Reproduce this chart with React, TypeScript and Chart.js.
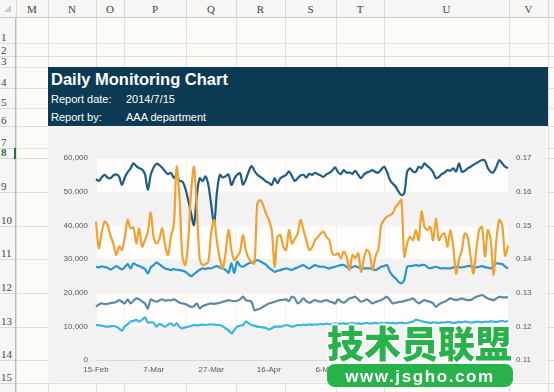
import React, { useEffect, useRef } from 'react';
import { Chart, registerables } from 'chart.js';
Chart.register(...registerables);

// ---------- data (values in thousands for the left axis) ----------
const START_DATE = Date.UTC(2014, 1, 15);
const MONTHS = ['Jan', 'Feb', 'Mar', 'Apr', 'May', 'Jun', 'Jul', 'Aug', 'Sep', 'Oct', 'Nov', 'Dec'];
const TICK_LABELS = ['15-Feb', '7-Mar', '27-Mar', '16-Apr', '6-May', '26-May', '15-Jun', '5-Jul'];
const LEFT_TICKS = [0, 10, 20, 30, 40, 50, 60];
const RIGHT_TICKS = [0.11, 0.12, 0.13, 0.14, 0.15, 0.16, 0.17];
const BANDS = [[50, 60], [30, 40], [10, 20]];

const SERIES_DARK = [53.7,53.2,54.3,55.0,54.2,54.0,54.8,55.1,54.5,52.0,
54.2,55.8,56.9,58.4,57.6,57.0,56.6,55.2,50.5,55.0,
57.2,58.3,57.9,57.1,56.0,55.2,55.6,54.1,54.9,53.2,
53.0,51.0,47.5,43.5,40.1,49.0,54.0,53.1,54.5,52.0,
46.0,40.5,50.0,55.0,54.2,54.6,55.1,52.0,53.8,55.0,
55.5,52.1,53.6,56.0,57.6,56.2,55.0,54.4,53.8,53.0,
52.6,52.0,54.0,52.5,54.0,54.5,55.0,56.0,54.6,53.2,
54.0,54.8,55.0,54.2,55.3,55.0,55.6,55.2,54.8,54.4,
55.2,55.6,56.3,57.2,55.8,55.2,56.4,55.6,55.7,55.3,
56.2,55.0,54.0,55.1,55.7,56.0,56.4,55.8,55.7,56.6,
57.4,55.9,53.5,52.4,51.5,50.0,49.0,49.5,55.9,56.9,
56.0,55.9,57.4,57.0,58.4,57.6,56.9,55.8,54.0,54.4,
55.2,55.7,56.4,56.2,56.9,56.0,58.4,55.9,56.2,56.9,
57.4,58.0,58.4,59.0,59.4,59.2,57.0,55.9,55.8,57.5,
59.4,58.4,57.4,57.0];

const SERIES_ORANGE = [41.1,33.2,38.0,41.1,40.1,37.0,34.6,31.2,33.7,32.7,
36.5,41.6,39.1,39.4,34.6,39.1,33.7,35.6,38.0,43.8,
36.5,34.6,36.0,39.1,34.0,31.2,36.6,40.1,57.4,48.0,
30.7,28.2,35.0,50.0,57.4,45.0,30.0,28.2,28.5,29.2,
38.0,41.6,35.0,30.0,27.2,32.0,38.6,32.7,29.7,30.7,
32.2,37.1,32.7,30.2,29.0,28.7,46.5,47.5,46.0,43.5,
41.6,38.6,27.7,36.6,37.1,33.7,32.7,38.6,34.6,36.0,
37.6,41.6,38.6,35.6,32.7,33.5,35.6,36.5,37.6,38.1,
36.5,35.6,31.7,31.2,31.7,30.2,32.2,30.5,26.7,31.2,
30.2,31.7,26.2,30.2,32.7,31.5,26.7,30.7,33.0,40.1,
41.6,42.6,43.0,43.6,45.5,46.5,47.5,30.7,34.6,36.6,
35.6,38.6,35.6,44.1,39.6,38.6,39.6,35.6,42.1,35.6,
37.1,37.6,33.7,38.6,33.7,25.7,30.0,32.7,37.6,36.6,
30.7,25.7,32.7,38.6,39.6,30.7,38.6,35.6,25.2,36.0,
41.6,40.0,31.0,34.0];

const SERIES_LIGHT = [27.7,27.5,27.8,27.6,27.4,26.9,27.3,27.9,27.4,26.9,
27.6,28.5,27.2,28.7,28.2,27.9,27.5,27.0,25.7,27.5,
28.2,28.9,28.4,27.8,27.2,27.0,26.7,27.0,26.8,26.7,
26.5,26.2,25.5,24.9,25.5,26.2,26.8,27.2,27.0,27.3,
27.2,27.6,27.9,27.4,27.2,26.8,25.9,28.7,25.9,29.2,
28.0,27.7,28.2,28.7,29.0,29.2,29.7,29.3,28.8,28.3,
27.4,26.8,26.2,26.5,26.7,27.0,27.2,27.0,26.7,27.2,
27.5,27.9,28.2,27.6,27.2,27.7,28.2,27.9,27.7,27.7,
27.4,27.2,27.5,27.7,28.0,28.2,28.2,27.6,27.2,27.6,
27.9,27.5,27.2,27.2,27.2,27.2,27.0,26.7,27.2,27.7,
27.9,28.2,26.2,25.0,24.2,23.2,22.8,23.8,27.7,27.9,
28.0,28.2,28.0,28.2,28.2,27.6,27.2,27.5,27.7,27.4,
27.2,27.3,27.2,27.2,27.5,27.7,27.6,27.5,27.7,27.9,
27.9,27.6,27.5,27.7,27.9,27.6,27.4,27.2,27.8,28.7,
28.6,28.5,27.7,27.2];

const SERIES_GRAY = [15.8,16.5,16.8,16.6,16.7,16.9,17.0,17.2,17.8,17.3,
16.8,18.0,16.8,17.6,18.3,18.0,17.4,16.8,15.3,18.0,
17.6,17.3,17.7,18.0,17.6,17.8,17.7,18.0,17.6,17.0,
16.8,16.6,16.2,15.8,16.0,16.8,15.3,16.0,16.3,16.6,
16.8,16.7,16.8,17.0,17.3,17.5,17.8,17.6,17.5,17.6,
18.0,18.8,17.8,17.6,17.3,14.8,15.0,15.3,15.8,16.3,
16.8,17.0,17.3,17.6,17.8,17.9,18.0,17.5,18.8,18.3,
16.8,17.4,18.3,17.5,17.0,17.4,17.8,17.5,17.3,17.6,
17.8,17.4,17.2,16.8,18.0,17.4,17.0,17.6,18.3,18.5,
18.8,18.0,17.3,17.6,18.0,17.4,16.8,17.2,17.5,17.8,
18.3,18.8,17.8,16.8,17.0,17.2,17.3,17.5,17.8,18.0,
18.3,17.5,16.8,17.3,17.8,17.5,17.3,16.8,15.8,16.5,
17.0,17.3,17.8,18.3,18.0,17.8,18.0,18.3,18.0,17.8,
17.8,18.3,18.8,19.0,19.3,18.8,18.3,18.0,17.8,18.3,
18.8,18.6,18.6,18.6];

const SERIES_CYAN = [10.4,10.3,10.2,10.0,9.9,10.0,10.1,9.9,9.4,8.7,
10.0,10.6,11.4,11.6,11.9,11.4,11.9,12.7,11.1,11.2,
11.1,9.9,10.7,10.3,9.9,10.5,10.9,10.1,10.9,9.8,
9.4,9.7,9.9,10.1,10.4,10.3,10.4,10.5,10.4,10.5,
10.6,10.5,10.4,10.4,10.0,9.4,8.8,7.9,8.9,9.9,
10.2,10.4,11.4,10.9,10.4,10.2,9.9,9.8,9.7,9.5,
9.1,9.4,9.9,9.9,9.9,10.1,10.4,10.2,9.9,10.1,
10.4,10.3,10.5,10.4,10.6,10.4,10.6,10.5,10.7,10.6,
10.8,10.6,10.7,10.9,10.7,10.8,10.9,10.7,10.9,11.0,
10.8,10.9,10.7,10.9,11.0,10.8,10.9,11.0,10.8,11.0,
10.9,11.1,10.9,11.0,10.8,11.0,11.1,10.9,11.0,11.2,
11.4,11.9,11.8,11.5,11.3,11.2,11.0,11.2,11.1,11.0,
11.2,11.1,11.3,11.2,11.0,11.1,11.3,11.2,11.4,11.3,
11.1,11.2,11.4,11.3,11.2,11.4,11.3,11.5,11.4,11.3,
11.5,11.6,11.4,11.6];

const LABELS = SERIES_DARK.map((_, i) => {
  const d = new Date(START_DATE + i * 86400000);
  return `${d.getUTCDate()}-${MONTHS[d.getUTCMonth()]}`;
});

// ---------- layout (spreadsheet look) ----------
const COL_EDGES = [16, 48, 96, 124, 186, 236, 285, 336, 384, 509, 548, 620];
const COL_NAMES = ['M', 'N', 'O', 'P', 'Q', 'R', 'S', 'T', 'U', 'V', ''];
const ROW_EDGES = [17, 43, 56, 67, 88, 108, 126, 148, 158, 192, 226, 259, 293, 327, 360, 383, 420];

const FONT = '"Liberation Sans", Arial, sans-serif';
const CELL_FONT = '"Liberation Serif", "DejaVu Serif", serif';
const GRID = '#e4ddd4';
const GREEN = '#27b24a';

const bandPlugin = {
  id: 'bands',
  beforeDraw(chart: any) {
    const { ctx, chartArea, scales } = chart;
    const y = scales.y;
    ctx.save();
    ctx.fillStyle = '#f2f2f2';
    ctx.fillRect(0, 0, chart.width, chart.height);
    for (const [lo, hi] of BANDS) {
      const t = y.getPixelForValue(hi);
      const b = y.getPixelForValue(lo);
      ctx.clearRect(chartArea.left, t, chartArea.right - chartArea.left, b - t);
      ctx.fillStyle = 'rgba(255,255,255,0.6)';
      ctx.fillRect(chartArea.left, t, chartArea.right - chartArea.left, b - t);
    }
    ctx.restore();
  },
};

function line(data: number[], color: string) {
  return {
    data,
    borderColor: color,
    backgroundColor: color,
    borderWidth: 2.2,
    pointRadius: 0,
    tension: 0.3,
    fill: false,
    yAxisID: 'y',
  };
}

const WHITE_OUTLINE = [
  '1px 0 0 #fff', '-1px 0 0 #fff', '0 1px 0 #fff', '0 -1px 0 #fff',
  '2px 0 0 #fff', '-2px 0 0 #fff', '0 2px 0 #fff', '0 -2px 0 #fff',
  '1px 1px 0 #fff', '-1px -1px 0 #fff', '1px -1px 0 #fff', '-1px 1px 0 #fff',
].join(', ');

export default function App() {
  const ref = useRef<HTMLCanvasElement>(null);

  useEffect(() => {
    const canvas = ref.current!;
    const tickFont = { size: 8, family: FONT };
    const chart = new Chart(canvas, {
      type: 'line',
      data: {
        labels: LABELS,
        datasets: [
          line(SERIES_ORANGE, '#f0a132'),
          line(SERIES_DARK, '#1f5c86'),
          line(SERIES_LIGHT, '#2896cc'),
          line(SERIES_GRAY, '#5c89a6'),
          line(SERIES_CYAN, '#38b5e4'),
        ] as any,
      },
      options: {
        responsive: false,
        animation: false,
        devicePixelRatio: 1,
        layout: { padding: { top: 32, left: 0, right: 0, bottom: 0 } },
        plugins: { legend: { display: false }, tooltip: { enabled: false } },
        scales: {
          x: {
            grid: { display: false, drawTicks: false },
            border: { display: true, color: '#d9d9d9', width: 1 },
            ticks: {
              autoSkip: false,
              maxRotation: 0,
              minRotation: 0,
              padding: 5,
              color: '#595959',
              font: tickFont,
              callback: (_v: any, i: number) => (TICK_LABELS.includes(LABELS[i]) ? LABELS[i] : null),
            },
            afterFit: (s: any) => { s.height = 22; },
          },
          y: {
            position: 'left',
            min: 0,
            max: 60,
            grid: { display: false, drawTicks: false },
            border: { display: false },
            afterBuildTicks: (s: any) => { s.ticks = LEFT_TICKS.map((v) => ({ value: v })); },
            ticks: {
              padding: 8,
              color: '#595959',
              font: tickFont,
              callback: (v: any) => (Number(v) * 1000).toLocaleString('en-US'),
            },
            afterFit: (s: any) => { s.width = 48; },
          },
          y1: {
            position: 'right',
            display: true,
            min: 0.11,
            max: 0.17,
            grid: { display: false, drawTicks: false },
            border: { display: false },
            afterBuildTicks: (s: any) => { s.ticks = RIGHT_TICKS.map((v) => ({ value: v })); },
            ticks: {
              padding: 8,
              color: '#595959',
              font: tickFont,
              callback: (v: any) => Number(v).toFixed(2),
            },
            afterFit: (s: any) => { s.width = 38; },
          },
        },
      } as any,
      plugins: [bandPlugin],
    });
    return () => chart.destroy();
  }, []);

  const abs = (s: React.CSSProperties): React.CSSProperties => ({ position: 'absolute', ...s });

  return (
    <div style={{ position: 'fixed', left: 0, top: 0, width: 554, height: 392, overflow: 'hidden', background: '#fdfbf8' }}>
      {ROW_EDGES.map((y, i) => (
        <div key={'r' + i} style={abs({ left: 16, top: y, width: 560, height: 1, background: GRID })} />
      ))}
      {COL_EDGES.map((x, i) => (
        <div key={'c' + i} style={abs({ left: x, top: 17, width: 1, height: 400, background: GRID })} />
      ))}

      {/* column header */}
      <div style={abs({ left: 0, top: 0, width: 554, height: 17, background: '#f7f6f4', borderBottom: '1px solid #cdc8c1' })} />
      <div style={abs({ left: 4, top: 5, width: 0, height: 0, borderLeft: '7px solid transparent', borderBottom: '7px solid #c9c9c9' })} />
      {COL_NAMES.map((n, i) => (
        <React.Fragment key={'h' + i}>
          <div style={abs({ left: COL_EDGES[i], top: 0, width: 1, height: 17, background: '#dcd7d0' })} />
          <div style={abs({ left: COL_EDGES[i], top: 0, width: COL_EDGES[i + 1] - COL_EDGES[i], height: 17, lineHeight: '18px', textAlign: 'center', fontFamily: CELL_FONT, fontSize: 11, color: '#444' })}>{n}</div>
        </React.Fragment>
      ))}

      {/* row header */}
      <div style={abs({ left: 0, top: 18, width: 15, height: 380, background: '#f7f6f4', borderRight: '1px solid #bdbab5' })} />
      {ROW_EDGES.slice(0, -1).map((y, i) => (
        <React.Fragment key={'n' + i}>
          <div style={abs({ left: 0, top: ROW_EDGES[i + 1], width: 15, height: 1, background: '#dcd7d0' })} />
          <div style={abs({ left: 1, top: ROW_EDGES[i + 1] - 13, width: 15, height: 14, lineHeight: '14px', fontFamily: CELL_FONT, fontSize: 11, color: i === 7 ? '#217346' : '#444', fontWeight: i === 7 ? 700 : 400 })}>{i + 1}</div>
        </React.Fragment>
      ))}
      <div style={abs({ left: 14, top: 148, width: 2, height: 11, background: '#217346' })} />

      {/* banner */}
      <div style={abs({ left: 48, top: 67, width: 500, height: 59, background: '#0d3a53' })} />
      <div style={abs({ left: 51, top: 70, height: 18, lineHeight: '18px', fontFamily: FONT, fontWeight: 700, fontSize: 16.5, color: '#fff', whiteSpace: 'nowrap' })}>Daily Monitoring Chart</div>
      <div style={abs({ left: 51, top: 91, height: 16, lineHeight: '16px', fontFamily: FONT, fontSize: 11, color: '#fff', whiteSpace: 'nowrap' })}>Report date:</div>
      <div style={abs({ left: 126, top: 91, height: 16, lineHeight: '16px', fontFamily: FONT, fontSize: 11, color: '#fff', whiteSpace: 'nowrap' })}>2014/7/15</div>
      <div style={abs({ left: 51, top: 109, height: 16, lineHeight: '16px', fontFamily: FONT, fontSize: 11, color: '#fff', whiteSpace: 'nowrap' })}>Report by:</div>
      <div style={abs({ left: 126, top: 109, height: 16, lineHeight: '16px', fontFamily: FONT, fontSize: 11, color: '#fff', whiteSpace: 'nowrap' })}>AAA department</div>

      {/* chart */}
      <canvas ref={ref} width={498} height={256} style={abs({ left: 48, top: 126, width: 498, height: 256 })} />

      {/* watermark */}
      <div style={abs({ left: 328, top: 360, width: 185, height: 5, background: '#fbfbfb' })} />
      <div style={abs({ left: 327, top: 324, height: 37, lineHeight: '37px', fontFamily: '"Noto Sans CJK SC", sans-serif', fontWeight: 900, fontSize: 37, color: GREEN, whiteSpace: 'nowrap', textShadow: WHITE_OUTLINE })}>技术员联盟</div>
      <div style={abs({ left: 327, top: 364, width: 186, height: 23, borderRadius: 8, background: GREEN, color: '#fff', fontFamily: FONT, fontWeight: 700, fontSize: 17, lineHeight: '25px', textAlign: 'center', letterSpacing: 1.6, whiteSpace: 'nowrap' })}>www.jsgho.com</div>
    </div>
  );
}
